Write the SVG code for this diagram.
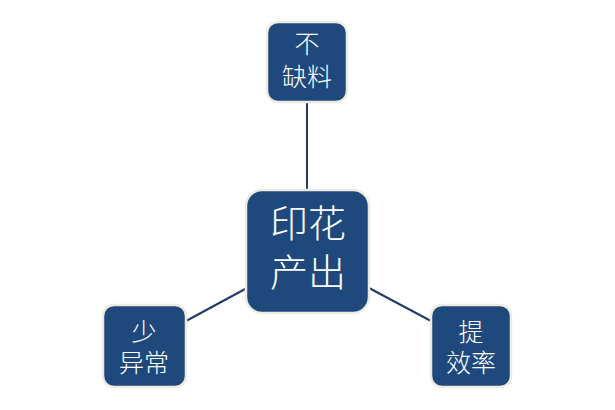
<svg xmlns="http://www.w3.org/2000/svg" width="615" height="410" viewBox="0 0 615 410">
<style>
.box{fill:#1f497d;stroke:#eeece1;stroke-width:2.5}
.t{fill:#ffffff;font-family:"Liberation Serif","Noto Sans CJK SC",serif;font-weight:300;text-anchor:middle;dominant-baseline:central}
.c{stroke:#1f3a6b;stroke-width:2;fill:none}
</style>
<rect width="615" height="410" fill="#ffffff"/>
<g id="connectors">
<line class="c" x1="307" y1="101" x2="307" y2="190"/>
<line class="c" x1="186" y1="321" x2="247" y2="288"/>
<line class="c" x1="369" y1="288" x2="431" y2="321"/>
</g>
<g id="center">
<rect class="box" x="246" y="190" width="123" height="123" rx="16"/>
<text class="t" x="308" y="224" font-size="38">印花</text>
<text class="t" x="308" y="273" font-size="38">产出</text>
</g>
<g id="top">
<rect class="box" x="267" y="22" width="80" height="80" rx="11"/>
<text class="t" x="307" y="44" font-size="25">不</text>
<text class="t" x="307" y="77" font-size="25">缺料</text>
</g>
<g id="left">
<rect class="box" x="103" y="305" width="83" height="82" rx="11"/>
<text class="t" x="144" y="332" font-size="25">少</text>
<text class="t" x="144" y="363" font-size="25">异常</text>
</g>
<g id="right">
<rect class="box" x="431" y="305" width="80" height="82" rx="11"/>
<text class="t" x="471" y="332" font-size="25">提</text>
<text class="t" x="471" y="363" font-size="25">效率</text>
</g>
</svg>
